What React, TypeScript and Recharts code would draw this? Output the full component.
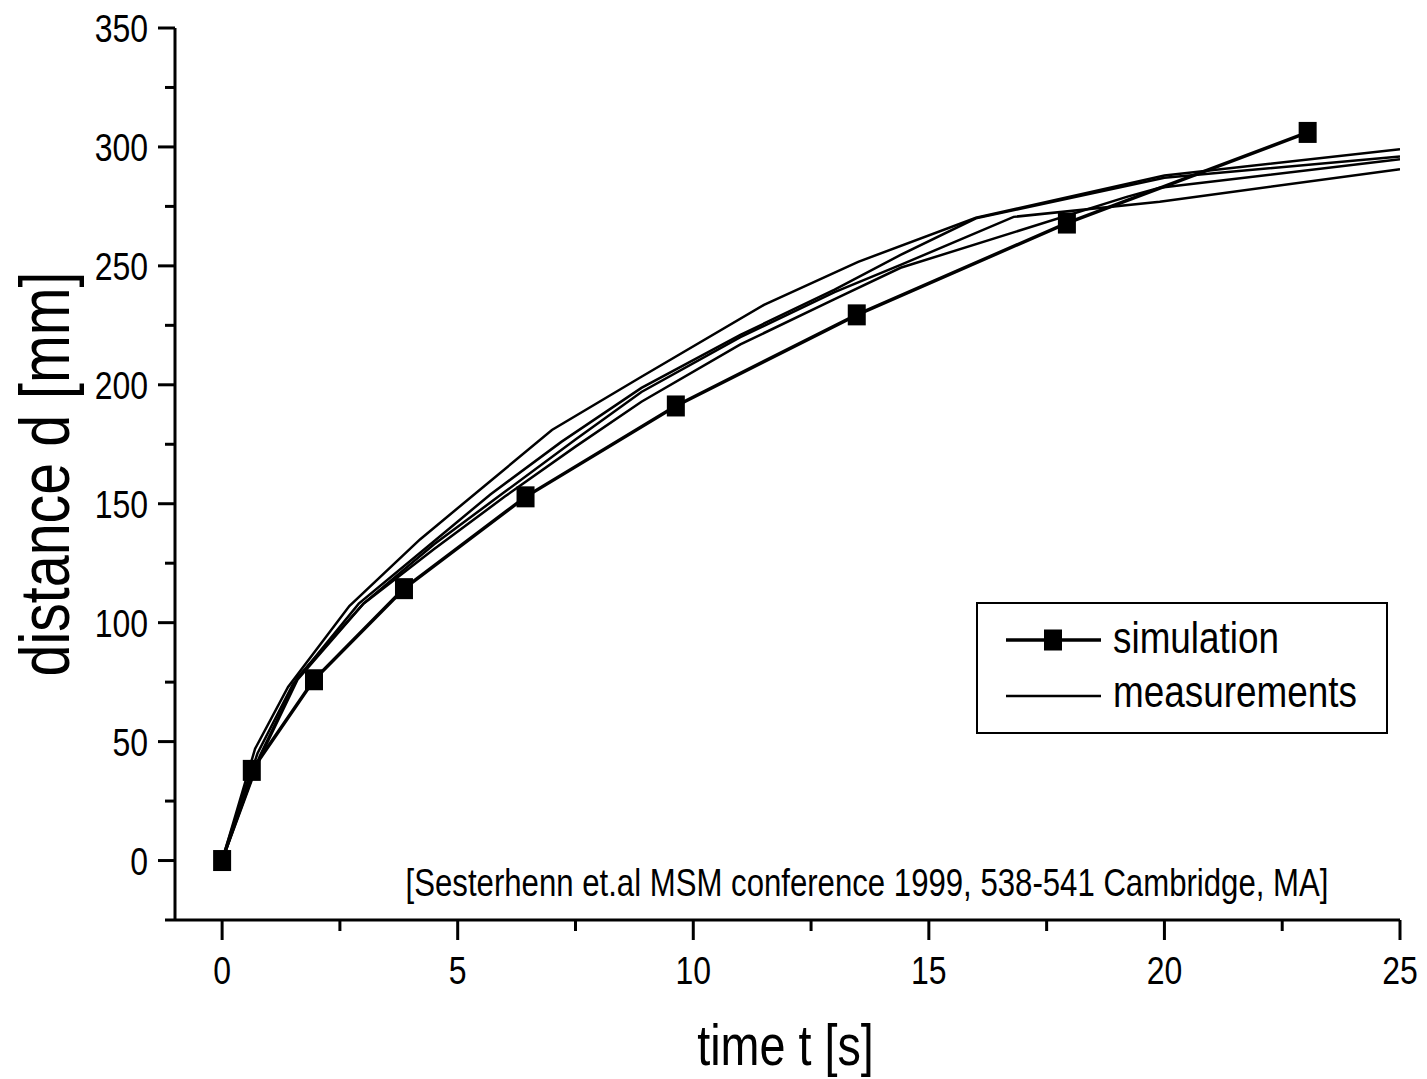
import React from "react";
import { LineChart, Line, XAxis, YAxis, Legend, Customized } from "recharts";

// simulation run (square markers)
const SIM_T = [0, 0.63, 1.95, 3.86, 6.44, 9.63, 13.47, 17.93, 23.04];
const SIM_D = [0, 37.9, 76, 114.3, 152.9, 191.1, 229.4, 268, 306.1];

// four measured runs
const MEAS_A_T = [0, 0.7, 1.4, 2.7, 4.2, 5.6, 7.0, 8.9, 11.5, 13.5, 16.0, 20.0, 25];
const MEAS_A_D = [0, 47, 73, 107, 135, 158, 181, 203.4, 233.6, 251.7, 270.2, 288, 299];
const MEAS_B_T = [0, 0.75, 1.5, 2.9, 4.3, 5.7, 7.2, 8.9, 11, 13, 14.4, 16.0, 20.0, 25];
const MEAS_B_D = [0, 45, 74, 108, 131, 154, 176, 198.7, 221, 240, 254.6, 270, 287, 296];
const MEAS_C_T = [0, 0.8, 1.6, 3.0, 4.5, 6.0, 7.5, 8.9, 11, 13, 14.4, 16.8, 19.9, 25];
const MEAS_C_D = [0, 44, 77, 108, 133, 155, 177, 197, 220, 239, 250.4, 270.6, 277, 290.6];
const MEAS_D_T = [0, 0.8, 1.6, 3.0, 4.5, 6.0, 7.5, 8.9, 11, 13, 14.4, 19.2, 19.9, 25];
const MEAS_D_D = [0, 43, 76, 108, 131, 153, 174, 192.9, 217, 236, 249.2, 279, 282.8, 294.8];

const X_TICKS = [0, 2.5, 5, 7.5, 10, 12.5, 15, 17.5, 20, 22.5, 25];
const Y_TICKS = [-25, 0, 25, 50, 75, 100, 125, 150, 175, 200, 225, 250, 275, 300, 325, 350];

const FONT = "'Liberation Sans', Arial, sans-serif";
const NARROW = 0.82; // the original uses a condensed Arial

const toPoints = (ts: number[], ds: number[]) => ts.map((t, i) => ({ t, d: ds[i] }));

const simData = toPoints(SIM_T, SIM_D);
const measSeries = [
  toPoints(MEAS_A_T, MEAS_A_D),
  toPoints(MEAS_B_T, MEAS_B_D),
  toPoints(MEAS_C_T, MEAS_C_D),
  toPoints(MEAS_D_T, MEAS_D_D),
];

// condensed text: horizontal squeeze around the anchor point
function NText({ x, y, size, anchor = "start", rotate = 0, children }: any) {
  return (
    <text
      transform={`translate(${x},${y}) rotate(${rotate}) scale(${NARROW},1)`}
      x={0}
      y={0}
      textAnchor={anchor}
      fontSize={size}
      fontFamily={FONT}
      fill="#000"
    >
      {children}
    </text>
  );
}

function XTick({ x, y, payload }: any) {
  const major = payload.value % 5 === 0;
  return (
    <g>
      <line x1={x} x2={x} y1={y} y2={y + (major ? 20 : 11)} stroke="#000" strokeWidth={3} />
      {major && (
        <NText x={x} y={y + 64} size={39} anchor="middle">
          {payload.value}
        </NText>
      )}
    </g>
  );
}

function YTick({ x, y, payload }: any) {
  const major = payload.value % 50 === 0;
  return (
    <g>
      <line x1={x} x2={x - (major ? 17 : 10)} y1={y} y2={y} stroke="#000" strokeWidth={3} />
      {major && (
        <NText x={x - 27} y={y + 14} size={39} anchor="end">
          {payload.value}
        </NText>
      )}
    </g>
  );
}

const SquareDot = ({ cx, cy, index }: any) => (
  <rect key={index} x={cx - 9} y={cy - 10.5} width={18} height={21} fill="#000" />
);

const renderLegend = () => (
  <svg width={412} height={132}>
    <rect x={1} y={1} width={410} height={130} fill="#fff" stroke="#000" strokeWidth={2} />
    <line x1={30} x2={125} y1={38} y2={38} stroke="#000" strokeWidth={3.5} />
    <rect x={68} y={27.5} width={18} height={21} fill="#000" />
    <NText x={137} y={51} size={45}>simulation</NText>
    <line x1={30} x2={125} y1={94} y2={94} stroke="#000" strokeWidth={2.5} />
    <NText x={137} y={105} size={45}>measurements</NText>
  </svg>
);

const Citation = () => (
  <NText x={867} y={896} size={38} anchor="middle">
    [Sesterhenn et.al MSM conference 1999, 538-541 Cambridge, MA]
  </NText>
);

export default function App() {
  return (
    <div style={{ position: "absolute", left: 0, top: 0, background: "#fff" }}>
      <LineChart width={1427} height={1079} margin={{ top: 28, right: 27, bottom: 0, left: 0 }}>
        <XAxis
          dataKey="t"
          type="number"
          domain={[-1, 25]}
          allowDataOverflow
          ticks={X_TICKS}
          interval={0}
          tick={<XTick />}
          tickLine={false}
          tickSize={0}
          tickMargin={0}
          height={159}
          axisLine={{ stroke: "#000", strokeWidth: 3 }}
          label={({ viewBox }: any) => (
            <NText x={viewBox.x + viewBox.width / 2 - 2} y={viewBox.y + 145} size={57} anchor="middle">
              time t [s]
            </NText>
          )}
        />
        <YAxis
          dataKey="d"
          type="number"
          domain={[-25, 350]}
          allowDataOverflow
          ticks={Y_TICKS}
          interval={0}
          tick={<YTick />}
          tickLine={false}
          tickSize={0}
          tickMargin={0}
          width={175}
          axisLine={{ stroke: "#000", strokeWidth: 3 }}
          label={({ viewBox }: any) => (
            <NText x={69} y={viewBox.y + viewBox.height / 2} size={70} anchor="middle" rotate={-90}>
              distance d [mm]
            </NText>
          )}
        />
        {measSeries.map((s, i) => (
          <Line
            key={"m" + i}
            data={s}
            dataKey="d"
            type="linear"
            stroke="#000"
            strokeWidth={2.5}
            dot={false}
            isAnimationActive={false}
          />
        ))}
        <Line
          data={simData}
          dataKey="d"
          type="linear"
          stroke="#000"
          strokeWidth={3.5}
          dot={<SquareDot />}
          isAnimationActive={false}
        />
        <Customized component={Citation} />
        <Legend
          layout="horizontal"
          verticalAlign="middle"
          align="center"
          content={renderLegend}
          wrapperStyle={{ left: 976, top: 602, width: 412, height: 132 }}
        />
      </LineChart>
    </div>
  );
}
